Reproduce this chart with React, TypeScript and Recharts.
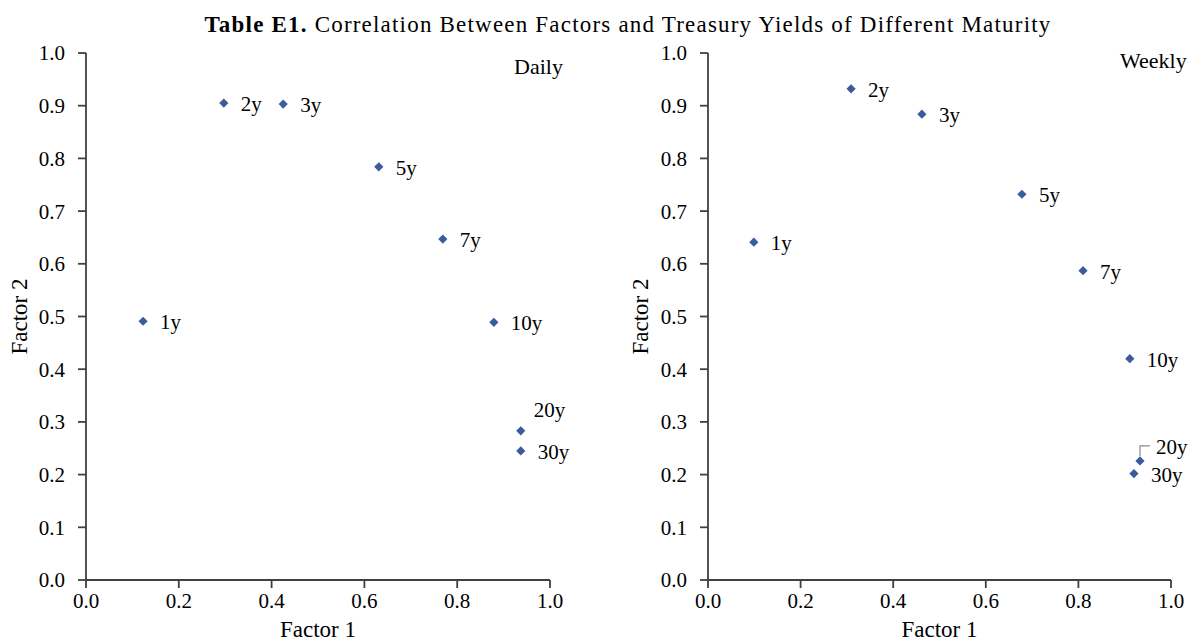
import React from 'react';
import { ScatterChart, Scatter, XAxis, YAxis } from 'recharts';

const maturities = ['1y', '2y', '3y', '5y', '7y', '10y', '20y', '30y'];
const dailyFactor1 = [0.123, 0.297, 0.425, 0.631, 0.769, 0.879, 0.937, 0.937];
const dailyFactor2 = [0.491, 0.905, 0.903, 0.784, 0.647, 0.489, 0.283, 0.245];
const weeklyFactor1 = [0.099, 0.309, 0.462, 0.678, 0.810, 0.911, 0.933, 0.920];
const weeklyFactor2 = [0.641, 0.932, 0.884, 0.732, 0.587, 0.420, 0.226, 0.202];
const xTicks = [0, 0.2, 0.4, 0.6, 0.8, 1.0];
const yTicks = [0, 0.1, 0.2, 0.3, 0.4, 0.5, 0.6, 0.7, 0.8, 0.9, 1.0];

const build = (xs: number[], ys: number[]) =>
  maturities.map((name, i) => ({ name, f1: xs[i], f2: ys[i] }));

const dailyData = build(dailyFactor1, dailyFactor2);
const weeklyData = build(weeklyFactor1, weeklyFactor2);

const FONT = '"Liberation Serif", "Times New Roman", serif';
const AXIS = '#404040';
const MARK = '#3B5C9B';
const FS = 21;

type Placement = 'right' | 'above' | 'leader';

const makeShape = (special: Record<string, Placement>) => (props: any) => {
  const { cx, cy, payload } = props;
  const r = 4.6;
  const name = payload.name as string;
  const place = special[name] || 'right';
  let label: React.ReactNode;
  if (place === 'above') {
    label = (
      <text x={cx + 13} y={cy - 14} fontFamily={FONT} fontSize={FS} fill="#000">
        {name}
      </text>
    );
  } else if (place === 'leader') {
    label = (
      <g>
        <polyline
          points={`${cx},${cy - 5} ${cx},${cy - 15} ${cx + 10},${cy - 15}`}
          fill="none"
          stroke="#8c8c8c"
          strokeWidth={1.2}
        />
        <text x={cx + 16} y={cy - 7} fontFamily={FONT} fontSize={FS} fill="#000">
          {name}
        </text>
      </g>
    );
  } else {
    label = (
      <text x={cx + 17} y={cy + 8} fontFamily={FONT} fontSize={FS} fill="#000">
        {name}
      </text>
    );
  }
  return (
    <g>
      <polygon
        points={`${cx},${cy - r} ${cx + r},${cy} ${cx},${cy + r} ${cx - r},${cy}`}
        fill={MARK}
      />
      {label}
    </g>
  );
};

const XLabel = (props: any) => {
  const vb = props.viewBox;
  return (
    <text
      x={vb.x + vb.width / 2}
      y={vb.y + 57}
      textAnchor="middle"
      fontFamily={FONT}
      fontSize={23}
      fill="#000"
    >
      Factor 1
    </text>
  );
};

const makeYLabel = (xPos: number) => (props: any) => {
  const vb = props.viewBox;
  const cy = vb.y + vb.height / 2;
  return (
    <text
      x={xPos}
      y={cy}
      textAnchor="middle"
      fontFamily={FONT}
      fontSize={23}
      fill="#000"
      transform={`rotate(-90, ${xPos}, ${cy})`}
      dy={7}
    >
      Factor 2
    </text>
  );
};

function Panel(props: {
  data: any[];
  width: number;
  yWidth: number;
  right: number;
  yLabelX: number;
  special: Record<string, Placement>;
}) {
  const { data, width, yWidth, right, yLabelX, special } = props;
  const tickStyle = { fontFamily: FONT, fontSize: FS, fill: '#000' };
  return (
    <ScatterChart
      width={width}
      height={643}
      margin={{ top: 53, right, bottom: 0, left: 0 }}
    >
      <XAxis
        type="number"
        dataKey="f1"
        domain={[0, 1]}
        ticks={xTicks}
        tickFormatter={(v: number) => v.toFixed(1)}
        height={63}
        stroke={AXIS}
        strokeWidth={1.8}
        tickSize={8}
        tickMargin={5}
        tick={tickStyle}
        interval={0}
        label={<XLabel />}
      />
      <YAxis
        type="number"
        dataKey="f2"
        domain={[0, 1]}
        ticks={yTicks}
        tickFormatter={(v: number) => v.toFixed(1)}
        width={yWidth}
        stroke={AXIS}
        strokeWidth={1.8}
        tickSize={8}
        tickMargin={13}
        tick={tickStyle}
        interval={0}
        label={makeYLabel(yLabelX)}
      />
      <Scatter data={data} isAnimationActive={false} shape={makeShape(special)} />
    </ScatterChart>
  );
}

export default function App() {
  return (
    <div
      style={{
        position: 'absolute',
        left: 0,
        top: 0,
        width: 1194,
        height: 643,
        background: '#fff',
        overflow: 'hidden',
      }}
    >
      <div
        style={{
          position: 'absolute',
          left: 0,
          top: 12,
          width: 1256,
          textAlign: 'center',
          fontFamily: FONT,
          fontSize: 23,
          letterSpacing: 1.2,
          whiteSpace: 'nowrap',
          color: '#000',
        }}
      >
        <b>Table E1.</b> Correlation Between Factors and Treasury Yields of Different Maturity
      </div>
      <div style={{ position: 'absolute', left: 0, top: 0 }}>
        <Panel
          data={dailyData}
          width={600}
          yWidth={86}
          right={50}
          yLabelX={20}
          special={{ '20y': 'above' }}
        />
      </div>
      <div style={{ position: 'absolute', left: 600, top: 0 }}>
        <Panel
          data={weeklyData}
          width={594}
          yWidth={108}
          right={23}
          yLabelX={41}
          special={{ '20y': 'leader' }}
        />
      </div>
      <div
        style={{
          position: 'absolute',
          left: 514,
          top: 54,
          fontFamily: FONT,
          fontSize: 22,
          color: '#000',
        }}
      >
        Daily
      </div>
      <div
        style={{
          position: 'absolute',
          left: 1120,
          top: 48,
          fontFamily: FONT,
          fontSize: 22,
          color: '#000',
        }}
      >
        Weekly
      </div>
    </div>
  );
}
